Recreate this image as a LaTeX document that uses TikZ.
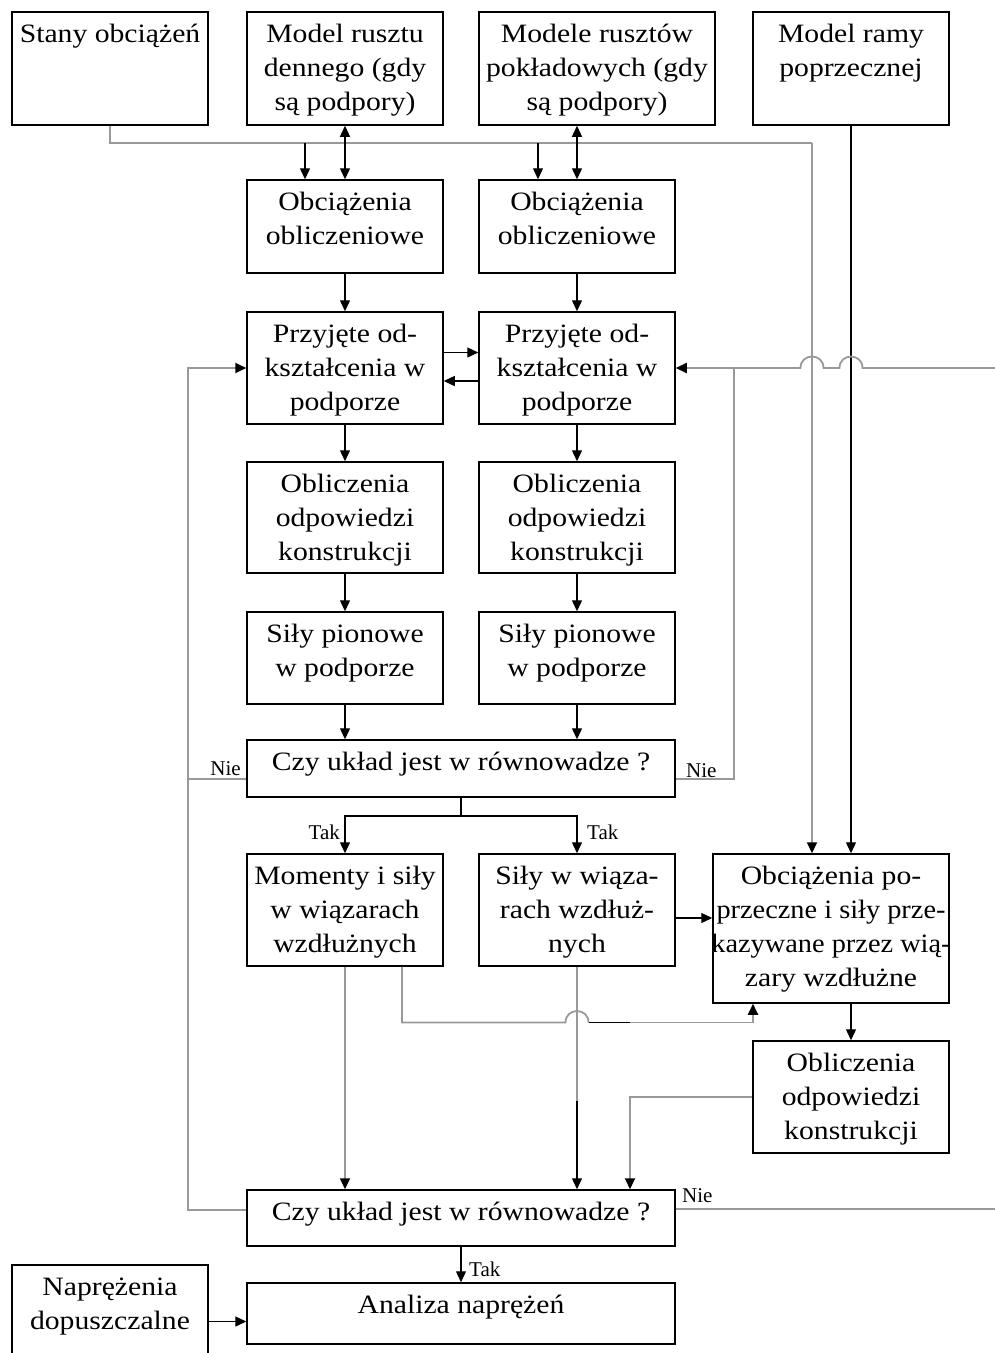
\documentclass[tikz,border=0pt]{standalone}
\usepackage{fontspec}
\usepackage{graphicx}
\setmainfont{Liberation Serif}[FakeStretch=1.12]
\newfontfamily\lblfont{Liberation Serif}
\usetikzlibrary{arrows.meta,calc}
\definecolor{lg}{gray}{0.6}
\newcommand{\btext}[3]{\parbox[c][#2][t]{#1}{\centering\rule{0pt}{30pt}#3\par}}
\newcommand{\mainsz}{\fontsize{26.5}{34}\selectfont}
\newcommand{\sqline}[1]{\makebox[236pt][c]{\scalebox{0.955}[1]{#1}}}
\tikzset{
  box/.style={draw, line width=1.5pt, inner sep=0pt, font=\mainsz},
  bl/.style={draw=black, line width=1.3pt},
  gl/.style={draw=lg, line width=1.8pt},
  ar/.style={bl, -{Triangle[length=11pt,width=10pt,color=black]}},
  gar/.style={gl, -{Triangle[length=11pt,width=10pt,color=black]}},
  dar/.style={bl, {Triangle[length=11pt,width=10pt,color=black]}-{Triangle[length=11pt,width=10pt,color=black]}},
  lbl/.style={inner sep=0pt, font=\lblfont\fontsize{21}{24}\selectfont}
}
\begin{document}
\begin{tikzpicture}[x=1pt,y=-1pt]
\useasboundingbox (0,0) rectangle (995,1353);
% row 1
\node[box] (stany)  at (110,68.5) {\btext{196pt}{113pt}{Stany obciążeń}};
\node[box] (model1) at (345,68.5) {\btext{196pt}{113pt}{Model rusztu\\dennego (gdy\\są podpory)}};
\node[box] (model2) at (597,68.5) {\btext{236pt}{113pt}{Modele rusztów\\pokładowych (gdy\\są podpory)}};
\node[box] (rama)   at (851,68.5) {\btext{196pt}{113pt}{Model ramy\\poprzecznej}};
% column nodes
\node[box] (obc1) at (345,226.5) {\btext{196pt}{93pt}{Obciążenia\\obliczeniowe}};
\node[box] (obc2) at (577,226.5) {\btext{196pt}{93pt}{Obciążenia\\obliczeniowe}};
\node[box] (prz1) at (345,368) {\btext{196pt}{112pt}{Przyjęte od-\\kształcenia w\\podporze}};
\node[box] (prz2) at (577,368) {\btext{196pt}{112pt}{Przyjęte od-\\kształcenia w\\podporze}};
\node[box] (obl1) at (345,517.5) {\btext{196pt}{111pt}{Obliczenia\\odpowiedzi\\konstrukcji}};
\node[box] (obl2) at (577,517.5) {\btext{196pt}{111pt}{Obliczenia\\odpowiedzi\\konstrukcji}};
\node[box] (sil1) at (345,658) {\btext{196pt}{92pt}{Siły pionowe\\w podporze}};
\node[box] (sil2) at (577,658) {\btext{196pt}{92pt}{Siły pionowe\\w podporze}};
\node[box] (czy1) at (461,768.5) {\btext{428pt}{57pt}{Czy układ jest w równowadze ?}};
\node[box] (mom)  at (345,910) {\btext{196pt}{112pt}{Momenty i siły\\w wiązarach\\wzdłużnych}};
\node[box] (silw) at (577,910) {\btext{196pt}{112pt}{Siły w wiąza-\\rach wzdłuż-\\nych}};
\node[box] (obcp) at (831,928.5) {\btext{236pt}{149pt}{Obciążenia po-\\\sqline{przeczne i siły prze-}\\\sqline{kazywane przez wią-}\\zary wzdłużne}};
\node[box] (obl3) at (851,1097) {\btext{196pt}{112pt}{Obliczenia\\odpowiedzi\\konstrukcji}};
\node[box] (czy2) at (461,1218) {\btext{428pt}{56pt}{Czy układ jest w równowadze ?}};
\node[box] (nap)  at (110,1321.5) {\btext{196pt}{113pt}{Naprężenia\\dopuszczalne}};
\node[box] (anal) at (461,1313.5) {\btext{428pt}{61pt}{Analiza naprężeń}};
% helper coordinates
\coordinate (g1) at (812,143);
\coordinate (a1) at (305,143);
\coordinate (a2) at (538,143);
\coordinate (lc) at (188,368);
\coordinate (rj) at (734,368);
\coordinate (re) at (995,368);
\coordinate (tj) at (461,816);
\coordinate (q)  at (630,0);
\coordinate (n1) at ([yshift=-10.5pt]czy1.west);
\coordinate (n2) at ([yshift=-10.5pt]czy1.east);
\coordinate (n3) at ([yshift=8pt]czy2.west);
\coordinate (n4) at ([yshift=9pt]czy2.east);
\coordinate (re2) at (995,1209);
\coordinate (s1) at ([yshift=-8pt]silw.east);
\coordinate (m1) at ([xshift=57pt]mom.south);
\coordinate (m2) at ([xshift=-78pt]obcp.south);
\coordinate (h1) at (588.5,1022.5);
\coordinate (h2) at (630,1022.5);
\coordinate (sb) at (577,1101);
% top connections
\draw[gl] (stany.south) |- (g1);
\draw[gar] (g1) -- (g1 |- obcp.north);
\draw[ar] (a1) -- (a1 |- obc1.north);
\draw[ar] (a2) -- (a2 |- obc2.north);
\draw[dar] (model1.south) -- (obc1.north);
\draw[dar] (obc2.north |- model2.south) -- (obc2.north);
\draw[ar] (rama.south) -- (rama.south |- obcp.north);
% columns
\draw[ar] (obc1) -- (prz1);
\draw[ar] (obc2) -- (prz2);
\draw[ar] ([yshift=15.5pt]prz1.east) -- ([yshift=15.5pt]prz2.west);
\draw[ar] ([yshift=-13pt]prz2.west) -- ([yshift=-13pt]prz1.east);
\draw[ar] (prz1) -- (obl1);
\draw[ar] (prz2) -- (obl2);
\draw[ar] (obl1) -- (sil1);
\draw[ar] (obl2) -- (sil2);
\draw[ar] (sil1.south) -- (sil1.south |- czy1.north);
\draw[ar] (sil2.south) -- (sil2.south |- czy1.north);
% feedback loops
\draw[gar] (re) -- (862.5,368) .. controls (862.5,352.7) and (839.5,352.7) .. (839.5,368)
  -- (823.5,368) .. controls (823.5,352.7) and (800.5,352.7) .. (800.5,368) -- (prz2.east);
\draw[gl] (n2) -| (rj);
\draw[gl] (n1) -- (n1 -| lc);
\draw[gar] (n3) -| (lc) -- (prz1.west);
\draw[gl] (n4) -- (re2);
\node[lbl, anchor=base east] (nie1) at (241,775) {Nie};
\node[lbl, anchor=base west] (nie2) at (686,777) {Nie};
\node[lbl, anchor=base west] (nie3) at (682,1202) {Nie};
% Tak branch
\draw[bl] (czy1.south) -- (tj);
\draw[ar] (tj) -| (mom.north);
\draw[ar] (tj) -| (silw.north);
\node[lbl, anchor=base east] (tak1) at (340,839) {Tak};
\node[lbl, anchor=base west] (tak2) at (587,839) {Tak};
% lower part
\draw[ar] (s1) -- (s1 -| obcp.west);
\draw[gl] (m1) |- (565.5,1022.5) .. controls (565.5,1007.2) and (588.5,1007.2) .. (h1);
\draw[bl] (h1) -- (h2);
\draw[gar] (h2) -| (m2);
\draw[gar] (mom.south) -- (mom.south |- czy2.north);
\draw[gl] (silw.south) -- (sb);
\draw[ar] (sb) -- (sb |- czy2.north);
\draw[ar] (obl3.north |- obcp.south) -- (obl3.north);
\draw[gar] (obl3.west) -| (q |- czy2.north);
\draw[ar] (czy2.south) -- (czy2.south |- anal.north);
\node[lbl, anchor=base west] (tak3) at (469,1276) {Tak};
\draw[ar] (nap.east) -- (nap.east -| anal.west);
\end{tikzpicture}
\end{document}
